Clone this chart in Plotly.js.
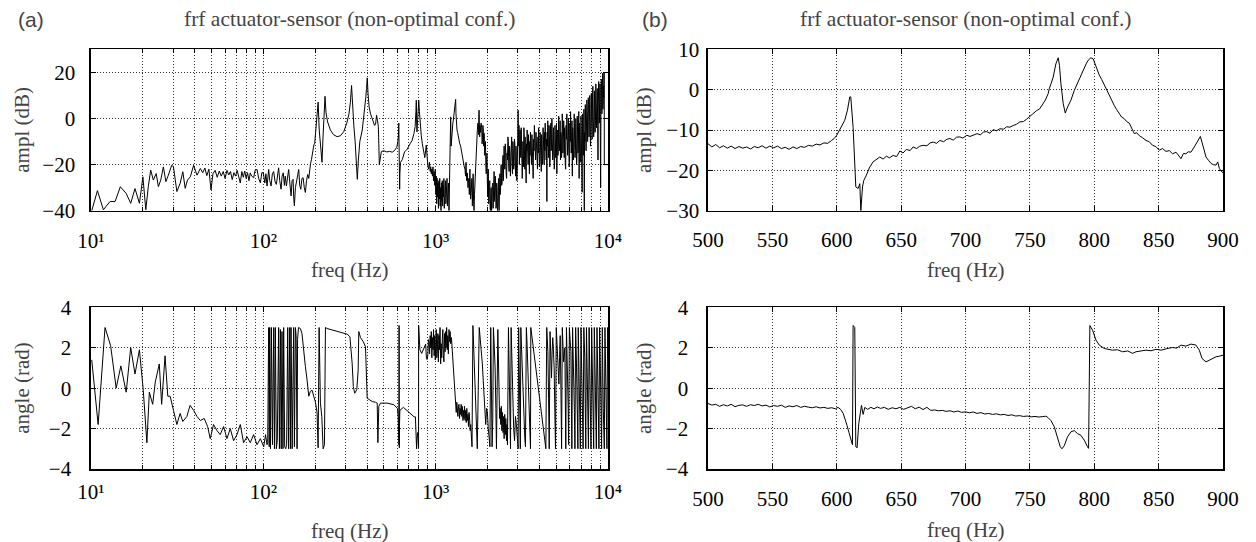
<!DOCTYPE html>
<html>
<head>
<meta charset="utf-8">
<script src="https://cdn.plot.ly/plotly-3.0.1.min.js"></script>
<style>html,body{margin:0;padding:0;background:#fff;}#chart{width:1256px;height:542px;}</style>
</head>
<body>
<div id="chart"></div>
<script>
// ---- data: [frequency Hz, value] ----
const ampA = [[10.1,-40],[10.9,-31.3],[11.8,-39.6],[12.9,-36],[13.8,-36],[14.8,-29.6],[16.0,-32.5],[17.0,-36.8],[18.0,-30.4],[19.1,-36.8],[20.0,-25.3],[20.8,-39.6],[21.5,-29.6],[22.2,-22.4],[23.0,-26.7],[23.9,-23.9],[24.6,-29.6],[25.4,-26.7],[26.3,-21],[27.2,-27.4],[28.1,-24.6],[29.4,-20.3],[30.1,-21],[31.5,-31.7],[32.9,-28.1],[34.1,-23.1],[35.2,-30.3],[36.3,-26.7],[37.7,-25.3],[39.4,-20.3],[41.2,-24.6],[43.1,-21.7],[44.5,-23.5],[45.8,-21.5],[47.0,-24.8],[48.3,-22.0],[49.7,-31.0],[51.0,-24],[52.5,-22.5],[54,-25.5],[55.5,-22.8],[57,-25],[58.5,-23],[60,-26],[61.5,-22.5],[63,-24.5],[64.5,-23],[66,-26.5],[67.5,-23.5],[69,-25],[70.5,-22.5],[72,-25.8],[73.5,-28],[75,-23],[76.5,-25.5],[78,-22.8],[79.5,-26],[81,-23.5],[82.5,-27],[84,-23.6],[85.5,-25],[87.9,-25.7],[89.5,-22.5],[91.9,-22.1],[94,-26],[96.1,-27.9],[98,-23.5],[100,-23.6],[102,-28],[103.5,-24],[105.1,-29.3],[107.4,-22.1],[109,-27],[110.9,-29.3],[112.8,-24],[114.8,-23.0],[117,-27.5],[119,-28.6],[121,-23.5],[122.7,-21.4],[124.5,-27],[126.7,-30.7],[128.5,-25],[130.5,-23.6],[132.5,-29],[134,-25],[136.1,-29.3],[138.2,-24],[140.3,-22.1],[142.5,-28],[144.9,-33.6],[146.8,-27],[148.8,-26.4],[150.2,-35],[151.4,-37.9],[153.5,-30],[155.6,-27.9],[158,-24.5],[160.5,-22.1],[162.5,-29],[165,-30.7],[167.5,-26],[170.2,-25.7],[172.8,-30],[175.4,-32.1],[178,-27],[181,-24.3],[183.5,-26],[185.9,-20.7],[188,-19.5],[190.1,-17.9],[192.3,-15],[194.5,-12.1],[196.5,-11.5],[198.7,-10.7],[201.4,-5],[203,-3],[205,-0.7],[208,7.1],[211,-5],[215,-14],[219,-19],[222,-8],[225,3],[228,9.6],[231,2.5],[236,-1.5],[245,-5],[255,-7],[268,-7.9],[280,-7.5],[293,-5.7],[305,-2],[314,2],[320,7],[325,14.3],[329,4],[335,-3],[341,-10],[346,-18],[351,-26.4],[356,-18],[363,-10],[375,-5],[385,2],[393,9],[397,13],[401,17.6],[405,11],[411,5],[419,2],[430,-1],[442,-3],[448,-2.5],[454,1.4],[460,-1],[465,-3.6],[471,-20],[477,-16],[484,-14.3],[500,-14],[520,-14.5],[540,-14.3],[560,-14.6],[575,-14],[585,-13.4],[595,-12.5],[603,-10],[608,-7.6],[611,-2],[613,-9],[615,-24],[618,-30.7],[620,-24],[625,-19],[640,-17.9],[660,-14.5],[684,-13.3],[710,-11],[730,-9.5],[748,-6.5],[760,-3.5],[768,3],[772,7.9],[776,-3],[779,-5.8],[786,-0.5],[792,5],[798,7.9],[805,3],[815,-3.5],[825,-7.5],[837,-11],[850,-15],[865,-17],[882,-11.5],[890,-18],[900,-20],[910,-22],[920,-19],[930,-23],[936,-21],[944,-24],[950,-22],[958,-25],[965,-21],[972,-27],[980,-23],[988,-29],[995,-22],[1002,-33],[1008,-25],[1014,-37],[1020,-26],[1026,-34],[1032,-28],[1038,-39],[1044,-27],[1050,-35],[1056,-26],[1062,-38],[1068,-30],[1074,-40],[1080,-28],[1086,-36],[1092,-27],[1098,-38],[1104,-29],[1110,-34],[1116,-26],[1122,-39],[1128,-30],[1134,-36],[1140,-27],[1146,-37],[1152,-29],[1158,-33],[1164,-26],[1170,-38],[1176,-30],[1182,-35],[1188,-28],[1195,-40],[1205,-20],[1215,-8],[1222,0.7],[1230,-12],[1240,-6],[1250,-5],[1258,-2],[1265,-1],[1272,1],[1280,2],[1288,4],[1295,5],[1300,7],[1306,8.3],[1312,2],[1320,-3],[1330,-5],[1340,-6],[1352,-8],[1365,-9],[1380,-11],[1396,-12],[1408,-14],[1420,-16],[1435,-18],[1450,-20],[1465,-21],[1480,-22],[1490,-25],[1500,-19],[1514,-27],[1527,-23.6],[1540,-30],[1555,-26],[1568,-33],[1580,-22],[1595,-35],[1610,-31],[1622,-26],[1633,-38],[1645,-29],[1650,-24],[1660,-36],[1670,-40],[1680,-33],[1690,-28],[1700,-22],[1710,-18],[1720,-14],[1730,-9],[1745,-5],[1760,-2],[1772,-7],[1785,3.6],[1792,-4],[1800,-8],[1810,-3],[1820,-6],[1835,-2],[1850,-4],[1860,-11],[1870,-9],[1880,-3],[1890,-5],[1900,-12],[1909,-6.4],[1918,-10],[1925,-16],[1935,-12],[1945,-10],[1955,-20],[1965,-24],[1975,-18],[1985,-15],[1995,-28],[2005,-34],[2012,-26],[2020,-22],[2030,-37],[2041,-36],[2050,-29],[2060,-27],[2070,-39],[2080,-40],[2090,-32],[2100,-30],[2110,-40],[2120,-38],[2132,-29],[2145,-28],[2155,-39],[2165,-35],[2175,-27],[2183,-23],[2195,-36],[2205,-33],[2215,-25],[2225,-27],[2238,-39],[2250,-38],[2260,-28],[2270,-30],[2285,-40],[2300,-37],[2310,-29],[2320,-26],[2327,-36],[2334,-40],[2348,-30],[2360,-24],[2370,-33],[2380,-31],[2390,-22],[2400,-20],[2415,-29],[2430,-28],[2445,-19],[2460,-16],[2470,-27],[2480,-24],[2490,-15],[2496,-12],[2508,-20],[2520,-22],[2535,-11],[2550,-14],[2565,-24],[2580,-26],[2595,-15],[2610,-18],[2625,-8],[2640,-10],[2655,-21],[2670,-23],[2685,-12],[2700,-15],[2715,-25],[2730,-21],[2745,-11],[2760,-8],[2775,-19],[2790,-24],[2805,-10],[2820,-13],[2835,-22],[2850,-20],[2865,-9],[2880,-11],[2895,-20],[2910,-25],[2925,-12],[2940,-16],[2958,-27],[2975,-22],[2990,-10],[3010,3.6],[3020,-6],[3030,-12],[3045,-3],[3060,-20],[3075,-9],[3090,-5],[3105,-14],[3120,-17],[3135,-4],[3150,-8],[3165,-19],[3180,-26],[3195,-13],[3210,-10],[3225,-21],[3240,-18],[3250,-4],[3260,-6],[3275,-16],[3290,-22],[3305,-8],[3320,-12],[3335,-20],[3350,-28],[3365,-11],[3380,-14],[3395,-5],[3410,-9],[3425,-18],[3440,-20],[3455,-7],[3470,-13],[3485,-22],[3500,-24],[3515,-10],[3530,-16],[3548,-6],[3565,-10],[3582,-19],[3600,-20],[3620,-7],[3640,-12],[3660,-21],[3680,-26],[3700,-9],[3720,-14],[3740,-3],[3760,-8],[3780,-17],[3800,-18],[3820,-6],[3840,-11],[3870,-20],[3898,-22],[3920,-8],[3940,-15],[3960,-4],[3980,-9],[4000,-21],[4020,-19],[4040,-6],[4060,-13],[4080,-22],[4100,-23],[4120,-7],[4140,-12],[4160,-20],[4180,-17],[4200,-4],[4220,-10],[4240,-19],[4262,-20],[4280,-6],[4300,-14],[4320,-2],[4340,-8],[4360,-16],[4380,-18],[4400,-9],[4420,-36],[4435,-6],[4450,-12],[4470,-1],[4490,-4],[4510,-17],[4530,-15],[4550,-3],[4570,-7],[4590,-21],[4610,-19],[4635,-5],[4663,-2],[4680,-14],[4700,-12],[4725,0],[4750,-6],[4775,-18],[4800,-16],[4825,-4],[4850,-9],[4875,-22],[4900,-20],[4925,-3],[4950,-8],[4975,-17],[5000,-14],[5025,-2],[5050,-24],[5075,-8],[5097,-5],[5125,-16],[5150,-13],[5175,1],[5200,-3],[5225,-14],[5250,-11],[5275,-1],[5300,-18],[5325,-6],[5350,-7],[5375,-17],[5400,-14],[5425,2],[5450,-2],[5475,-15],[5500,-10],[5535,-1],[5573,-17],[5595,-4],[5620,-6],[5650,-20],[5680,-22],[5710,-3],[5740,-9],[5770,2],[5800,-4],[5830,-16],[5860,-13],[5890,0],[5920,-7],[5950,-21],[5980,-19],[6010,-2],[6040,-10],[6065,3],[6094,-3],[6120,-15],[6150,-12],[6180,-1],[6210,-25],[6240,-4],[6270,-8],[6300,-18],[6330,-15],[6365,2],[6400,-6],[6435,-17],[6470,-14],[6505,0],[6540,-9],[6570,-20],[6600,-18],[6630,1],[6663,-5],[6695,-15],[6730,-12],[6765,3],[6800,-26],[6835,-2],[6870,-8],[6905,-19],[6940,-17],[6970,1],[7000,-10],[7040,-20],[7080,-32],[7115,2],[7150,-4],[7185,-16],[7220,-14],[7250,4],[7285,-40],[7320,-6],[7350,-10],[7385,6],[7420,-2],[7460,-14],[7500,-8],[7540,8],[7580,3],[7615,-10],[7650,-4],[7685,9],[7720,6],[7760,-8],[7800,0],[7840,10],[7880,-6],[7920,-12],[7965,4],[8005,11],[8050,-2],[8090,-9],[8130,8],[8170,14],[8210,1],[8255,-8],[8300,-5],[8340,12],[8380,6],[8420,-6],[8460,-1],[8500,15],[8540,10],[8580,-4],[8620,2],[8665,13],[8709,-3],[8750,-18],[8790,7],[8830,16],[8870,12],[8910,-2],[8950,3],[8990,15],[9030,-12],[9065,-30],[9100,5],[9140,17],[9180,14],[9215,2],[9250,8],[9280,15],[9310,19.6],[9345,4],[9380,6],[9410,14],[9440,9],[9470,20],[9510,20],[9520,-20],[10000,-20]];

const phaseA = [[10.1,1.4],[11.0,-1.8],[12.06,3.0],[13.0,2.1],[14.0,0.0],[14.9,1.1],[16.0,-0.2],[17.0,2.0],[18.0,0.7],[19.1,1.9],[20.1,-0.1],[21.1,-2.7],[21.8,-0.2],[22.8,-0.8],[23.6,0.3],[24.9,1.2],[25.7,-0.8],[26.9,1.6],[27.9,-0.4],[28.8,-0.4],[30.1,-1.1],[31.5,-1.8],[32.9,-1.25],[34.1,-1.65],[36.0,-1.4],[37.6,-0.85],[39.4,-1.1],[41.2,-1.4],[43.1,-1.6],[45.4,-1.5],[47.5,-1.9],[49.2,-2.5],[51.4,-1.8],[53.8,-2.1],[56.2,-2.3],[58.8,-1.9],[61.5,-2.5],[64.3,-2.0],[67.2,-2.6],[70.3,-2.3],[73.5,-1.8],[76.8,-2.7],[80.4,-2.4],[84,-2.7],[87.8,-2.3],[91.9,-2.8],[96.1,-2.5],[100.5,-2.9],[103,-2.3],[105,-2.8],[106,-2.7],[107.4,3.0],[108.2,-2.9],[108.9,3.0],[110,-3.0],[111.4,3.0],[113,-2.8],[114.9,3.0],[116,-3.0],[117.4,3.0],[119,-3.0],[120.5,-2.6],[122.7,3.0],[124,-3.0],[125.6,2.9],[127,-3.0],[128.3,2.8],[130,-3.0],[131.2,3.0],[133,-2.9],[135,-3.0],[136.5,-2.8],[138.5,3.0],[140,-3.0],[142.3,3.0],[143.5,-3.0],[144.8,3.0],[147,-3.0],[150,3.0],[151.5,-2.9],[153.5,3.0],[155,2.6],[157,-3.0],[158,2.4],[160,3.0],[164,2.95],[167.6,2.7],[171.5,1.7],[175.4,1.07],[179.4,0.4],[183.5,-0.4],[187.6,-0.16],[191.8,-0.1],[196.1,-0.4],[200.6,-0.7],[205,-1.2],[207.9,-2.95],[210.7,3.0],[214.4,-0.74],[218.4,-1.4],[222.3,-3.0],[226.3,-2.8],[229.3,3.0],[234.5,2.95],[269.5,2.79],[306.7,2.67],[318,2.54],[327.8,1.2],[332.7,0.08],[339,-0.25],[348.5,-0.08],[355,0.9],[358.1,2.8],[366.4,2.5],[380,2.3],[391.6,2.05],[400.5,-0.5],[409.6,-0.57],[428,-0.66],[448,-0.7],[458,-0.74],[462,-2.7],[467.8,-0.9],[478.6,-0.74],[523,-0.74],[572,-0.82],[600,-1.0],[606,-1.4],[609,-2.1],[611.4,-2.7],[612.2,-2.8],[612.7,3.1],[614,3.0],[614.8,-2.9],[615.8,-2.95],[617,-1.75],[620,-1.1],[650,-0.95],[700,-1.17],[750,-1.42],[763,-1.42],[768,-1.9],[772,-2.5],[775,-3.0],[780,-2.4],[785,-2.2],[790,-2.5],[795.6,-2.95],[796.6,3.1],[799,2.87],[804,2.13],[810,1.9],[830,1.72],[855,1.96],[875,2.18],[884,1.47],[891,1.42],[900,1.6],[908,2.4],[915,2.3],[922,1.7],[929,2.6],[936,2.0],[943,2.8],[950,1.5],[958,2.5],[965,1.9],[972,2.9],[980,1.6],[988,2.6],[995,1.4],[1000,2.3],[1008,2.9],[1015,1.5],[1022,1.8],[1030,2.7],[1037,1.3],[1045,2.6],[1052,1.9],[1060,3.0],[1069,1.2],[1076,2.2],[1084,1.5],[1093,2.4],[1100,2.9],[1108,1.6],[1117,1.3],[1125,2.7],[1134,1.8],[1143,2.8],[1150,2.0],[1158,3.0],[1168,1.9],[1176,2.6],[1185,1.7],[1195,2.9],[1205,2.3],[1213,2.8],[1222,2.2],[1235,2.5],[1250,1.8],[1265,1.2],[1278,0.5],[1292,-0.4],[1306,-0.75],[1316,-1.2],[1326,-0.7],[1336,-1.0],[1346,-1.4],[1356,-0.9],[1366,-0.8],[1376,-1.5],[1386,-1.0],[1396,-1.3],[1406,-0.8],[1417,-1.4],[1428,-0.9],[1440,-1.6],[1450,-1.1],[1460,-1.5],[1470,-0.9],[1482,-1.6],[1493,-1.1],[1505,-1.7],[1516,-1.0],[1527,-1.6],[1540,-1.3],[1550,-1.9],[1562,-1.2],[1575,-1.6],[1586,-2.1],[1597,-1.8],[1610,-2.3],[1625,-2.9],[1645,3.1],[1660,2.2],[1675,1.5],[1690,0.2],[1705,-1.0],[1725,-2.2],[1744,-3.0],[1790,3.0],[1808,2.6],[1825,2.0],[1845,1.6],[1866,1.2],[1888,0.4],[1909,-0.5],[1930,-1.2],[1952,-1.8],[1975,-1.0],[1996,-1.2],[2020,-2.0],[2041,-2.5],[2065,-2.9],[2087,3.0],[2105,0.5],[2125,-2.9],[2145,-1.5],[2163,3.0],[2190,2.0],[2213,1.0],[2235,-1.0],[2253,-3.0],[2295,2.9],[2315,1.0],[2334,-0.8],[2350,-1.5],[2365,-1.0],[2387,-1.8],[2405,-0.9],[2420,-2.1],[2441,-1.2],[2460,-2.2],[2480,-1.4],[2496,-2.5],[2515,-1.3],[2535,-2.3],[2553,-1.5],[2575,-2.6],[2592,-1.8],[2610,-2.8],[2645,3.0],[2670,0.5],[2692,-2.0],[2718,-3.0],[2740,3.0],[2770,1.0],[2800,-1.0],[2835,-2.0],[2870,-2.6],[2905,-1.4],[2940,-1.8],[2975,-2.4],[3010,-3.0],[3030,3.0],[3055,0.0],[3082,-2.8],[3100,-3.0],[3120,3.0],[3145,2.2],[3172,1.0],[3215,-0.8],[3260,-2.0],[3290,-2.5],[3320,-2.9],[3360,3.0],[3395,2.1],[3430,1.2],[3480,-0.8],[3535,-2.5],[3550,-3.0],[3565,3.0],[3600,2.7],[3640,2.4],[3700,1.9],[3760,1.5],[3810,1.0],[3860,0.6],[3920,0.1],[3980,-0.5],[4045,-1.0],[4110,-1.5],[4170,-1.9],[4225,-2.3],[4290,-2.7],[4360,-3.0],[4410,3.0],[4445,2.3],[4480,1.8],[4520,-0.5],[4560,-3.0],[4610,2.8],[4655,1.5],[4700,0.5],[4740,1.8],[4780,2.5],[4825,1.9],[4870,1.0],[4915,-1.2],[4960,-3.0],[5010,3.0],[5055,2.2],[5097,1.5],[5145,0.8],[5190,0.2],[5235,1.5],[5280,2.6],[5330,0.0],[5380,-3.0],[5430,3.0],[5480,2.0],[5525,1.3],[5570,1.6],[5620,2.0],[5655,-0.5],[5690,-3.0],[5740,3.0],[5790,1.8],[5840,0.8],[5875,-1.0],[5910,-2.8],[5970,3.0],[6030,2.4],[6094,1.8],[6130,-0.5],[6170,-3.0],[6230,3.0],[6285,1.8],[6340,0.5],[6385,-1.2],[6430,-3.0],[6490,3.0],[6530,2.1],[6570,1.0],[6615,-0.5],[6663,-2.0],[6690,-3.0],[6720,3.0],[6785,0.8],[6850,-1.5],[6910,-3.0],[6970,3.0],[7020,1.8],[7070,0.8],[7120,-1.2],[7170,-3.0],[7240,3.0],[7285,2.2],[7330,1.5],[7380,-0.8],[7430,-3.0],[7500,3.0],[7550,1.4],[7600,0],[7650,-1.6],[7700,-3.0],[7770,3.0],[7815,2.0],[7860,1.0],[7910,-1.0],[7965,-3.0],[8040,3.0],[8095,1.0],[8150,-1.0],[8205,-2.2],[8260,-3.0],[8330,3.0],[8385,1.8],[8440,0.5],[8500,-1.5],[8560,-3.0],[8630,3.0],[8685,1.2],[8740,-0.5],[8800,-1.8],[8860,-3.0],[8940,3.0],[9000,2.0],[9060,1.0],[9120,-1.2],[9180,-3.0],[9270,3.0],[9330,0.8],[9390,-1.0],[9455,-2.0],[9520,-3.0],[9600,3.0],[9665,1.8],[9730,0.5],[9795,-1.5],[9860,-3.0],[9950,3.0],[10000,1.5]];

const ampB = [[500,-13.4],[503,-14.2],[506,-13.6],[509,-14.4],[512,-13.9],[515,-14.5],[518,-14.0],[521,-14.6],[524,-14.1],[527,-14.5],[530,-14.2],[533,-14.7],[536,-14.1],[539,-14.4],[542,-13.9],[545,-14.5],[548,-14.0],[551,-14.4],[554,-14.0],[557,-14.6],[560,-14.3],[563,-14.8],[566,-14.2],[569,-14.6],[572,-14.1],[575,-14.3],[578,-13.8],[581,-14.0],[584,-13.5],[587,-13.7],[590,-13.2],[593,-13.3],[596,-12.6],[598,-12.1],[600,-11.3],[602.3,-10],[604,-9.2],[606.2,-7.6],[608.3,-5.1],[610.1,-1.8],[610.9,-1.8],[612.7,-9.3],[614.8,-24.1],[616.6,-24.5],[617.9,-23.3],[618.7,-30],[620,-24.1],[621,-22.5],[623,-21.2],[625.6,-19.2],[628.2,-17.9],[630.8,-17.3],[633.4,-16.7],[636,-17.2],[638.6,-16.5],[641,-16.9],[643.8,-16.3],[646.5,-16.6],[649,-15.2],[651.5,-15.7],[654.1,-14.8],[657,-15.1],[659.3,-14.2],[662,-14.6],[664.5,-14.0],[667.1,-13.8],[670,-13.9],[672.5,-13.2],[674.9,-13.0],[677.5,-13.3],[680,-12.6],[683,-12.9],[685.5,-12.3],[687.8,-12.1],[690.5,-12.5],[693,-11.8],[695.6,-11.7],[698,-12.0],[701,-11.3],[703.5,-11.6],[706,-11.3],[709,-10.9],[711.5,-11.2],[714,-10.5],[716.3,-10.4],[719,-10.8],[721.5,-9.9],[724,-10.2],[726.7,-9.7],[729.5,-9.8],[732,-9.2],[734.5,-9.3],[737,-8.9],[739.5,-8.6],[742.2,-8.0],[745,-7.9],[747.5,-7.3],[750,-6.6],[752.5,-6.0],[755.2,-5.2],[757.5,-4.8],[759.8,-3.6],[762,-2.6],[764.2,-1.0],[765,0.2],[766.5,1.5],[768.1,3.1],[770.2,6.4],[771.2,7.4],[772,7.9],[773,6],[774.1,1.5],[775.9,-3.5],[777.5,-5.8],[779.3,-4.3],[781.9,-2.6],[784.5,-0.2],[786.5,1.2],[788.3,2.7],[790.3,4.0],[792.2,5.6],[794,6.6],[795.6,7.4],[797.4,7.9],[799.2,7.6],[801.3,5.6],[803.9,3.6],[805.8,2.5],[807.8,1.1],[809.8,-0.1],[811.7,-1.4],[813.6,-2.8],[815.5,-3.9],[817.5,-5.0],[819.4,-6.0],[821.3,-6.8],[823.3,-7.2],[825.2,-7.9],[827.2,-8.3],[829,-9.5],[831.1,-10.9],[833,-10.7],[835,-11.4],[837.5,-11.9],[840.2,-12.6],[842.7,-12.9],[845.3,-13.8],[847.8,-14.1],[850.5,-15.0],[853,-14.6],[855.7,-15.3],[858.3,-15.1],[860.9,-15.9],[863.5,-15.5],[865.5,-16.4],[867.4,-17.1],[869.3,-15.8],[871.2,-15.9],[873,-15.4],[875.1,-15.5],[877.7,-14.2],[880.3,-12.6],[882.4,-11.6],[884.7,-14.2],[886.8,-16.7],[888.7,-17.5],[890.7,-18.3],[892.6,-18.6],[894.6,-18.7],[895.9,-17.9],[897.2,-19.6],[899.2,-20.4],[900,-20.6]];

const phaseB = [[500,-0.76],[503,-0.84],[506,-0.80],[509,-0.90],[512,-0.82],[515,-0.88],[518,-0.80],[521,-0.92],[524,-0.85],[527,-0.83],[530,-0.90],[533,-0.82],[536,-0.86],[539,-0.80],[542,-0.88],[545,-0.84],[548,-0.93],[551,-0.86],[554,-0.90],[557,-0.84],[560,-0.95],[563,-0.88],[566,-0.92],[569,-0.86],[572,-0.95],[575,-0.90],[578,-0.94],[581,-0.97],[584,-0.92],[587,-0.98],[590,-0.95],[593,-1.0],[596,-0.97],[599,-1.02],[601,-0.95],[603,-1.05],[605,-1.25],[606.5,-1.5],[608,-1.85],[609.5,-2.2],[611,-2.6],[612.2,-2.8],[612.7,3.1],[614,3.0],[614.8,-2.9],[615.8,-2.95],[617.1,-1.75],[618.4,-1.1],[619.2,-0.85],[620.5,-1.3],[621.8,-0.95],[624,-1.05],[626.5,-0.95],[629,-1.02],[631.5,-0.93],[634,-1.0],[637,-0.95],[640,-1.05],[643,-0.97],[646,-1.02],[649,-0.95],[652,-1.05],[655,-0.98],[658,-0.9],[661,-1.02],[664,-0.94],[667,-1.06],[670,-0.95],[673,-1.1],[676,-1.08],[679,-1.12],[682,-1.1],[685,-1.15],[688,-1.12],[691,-1.18],[694,-1.13],[697,-1.2],[700,-1.17],[703,-1.22],[706,-1.18],[709,-1.25],[712,-1.21],[715,-1.28],[718,-1.25],[721,-1.3],[724,-1.27],[727,-1.32],[730,-1.3],[733,-1.35],[736,-1.32],[739,-1.38],[742,-1.36],[745,-1.4],[748,-1.38],[751,-1.42],[754,-1.40],[757,-1.43],[760,-1.40],[762.4,-1.39],[764,-1.45],[766.3,-1.6],[768.9,-1.9],[771.5,-2.5],[773.6,-2.9],[774.9,-3.0],[776.7,-2.85],[779.3,-2.4],[781.9,-2.16],[784.5,-2.1],[787,-2.25],[789.6,-2.33],[792.2,-2.57],[794.8,-2.9],[795.6,-2.98],[796.6,3.1],[798.7,2.87],[801.3,2.38],[803.9,2.13],[807.8,1.96],[811,1.92],[814.2,1.88],[818,1.9],[822,1.8],[826,1.84],[829.8,1.72],[832.4,1.8],[836,1.82],[840.2,1.88],[844,1.85],[848,1.92],[852,1.88],[855.7,1.96],[858,1.98],[860.9,2.01],[864,1.98],[867.4,2.13],[871.2,2.08],[875.1,2.18],[879,2.13],[881.6,1.88],[883.7,1.47],[886.8,1.3],[890.7,1.42],[894.6,1.55],[897,1.58],[900,1.63]];

// tick positions / labels for the log frequency axis
const decadeVals = [10, 100, 1000, 10000];
const decadeText = ['10\u00B9', '10\u00B2', '10\u00B3', '10\u2074'];
const minorVals = [20,30,40,50,60,70,80,90,200,300,400,500,600,700,800,900,2000,3000,4000,5000,6000,7000,8000,9000];
const titleText = 'frf actuator-sensor (non-optimal conf.)';

const SERIF = 'Liberation Serif, Times New Roman, serif';
const SANS = 'Liberation Sans, Arial, sans-serif';
const W = 1256, H = 542;
const GRID = {gridcolor: '#333', griddash: '1px,2px', gridwidth: 1};

function tr(pairs, xa, ya) {
  return {x: pairs.map(p => p[0]), y: pairs.map(p => p[1]), xaxis: xa, yaxis: ya,
    type: 'scatter', mode: 'lines', line: {color: '#000', width: 1}, hoverinfo: 'skip'};
}

const common = Object.assign({
  showline: true, mirror: 'allticks', linecolor: '#000', linewidth: 1.6,
  ticks: 'inside', ticklen: 5, tickcolor: '#000', tickwidth: 1,
  showgrid: true, zeroline: false, tickfont: {family: SERIF, size: 21, color: '#000'}
}, GRID);
function ax(o) { return Object.assign({}, common, o); }
const logMinor = Object.assign({tickmode: 'array', tickvals: minorVals, showgrid: true, ticks: 'inside', ticklen: 4, tickcolor: '#000'}, GRID);

const xA = [91/W, 608/W], xB = [708/W, 1223/W];
const yTop = [1 - 210.7/H, 1 - 49.3/H], yBot = [1 - 469/H, 1 - 307.3/H];

const layout = {
  width: W, height: H, margin: {l: 0, r: 0, t: 0, b: 0},
  paper_bgcolor: '#fff', plot_bgcolor: '#fff', showlegend: false,
  xaxis: ax({domain: xA, anchor: 'y', type: 'log', range: [1, 4], tickmode: 'array', tickvals: decadeVals, ticktext: decadeText, minor: logMinor, ticklabelstandoff: 10}),
  yaxis: ax({domain: yTop, anchor: 'x', range: [-40, 30], tickvals: [-40, -20, 0, 20], ticklabelstandoff: 10}),
  xaxis2: ax({domain: xA, anchor: 'y2', type: 'log', range: [1, 4], tickmode: 'array', tickvals: decadeVals, ticktext: decadeText, minor: logMinor, ticklabelstandoff: 3}),
  yaxis2: ax({domain: yBot, anchor: 'x2', range: [-4, 4], dtick: 2, ticklabelstandoff: 14}),
  xaxis3: ax({domain: xB, anchor: 'y3', range: [500, 900], dtick: 50, ticklabelstandoff: 9}),
  yaxis3: ax({domain: yTop, anchor: 'x3', range: [-30, 10], dtick: 10, ticklabelstandoff: 3}),
  xaxis4: ax({domain: xB, anchor: 'y4', range: [500, 900], dtick: 50, ticklabelstandoff: 10}),
  yaxis4: ax({domain: yBot, anchor: 'x4', range: [-4, 4], dtick: 2, ticklabelstandoff: 14}),
  annotations: [
    {text: '(a)', x: 16/W, y: 1 - 20/H, xanchor: 'left', yanchor: 'middle', font: {family: SANS, size: 21}},
    {text: '(b)', x: 640/W, y: 1 - 20/H, xanchor: 'left', yanchor: 'middle', font: {family: SANS, size: 21}},
    {text: titleText, x: 349.5/W, y: 1 - 19/H, xanchor: 'center', yanchor: 'middle', font: {family: SERIF, size: 21.5}},
    {text: titleText, x: 965.5/W, y: 1 - 19/H, xanchor: 'center', yanchor: 'middle', font: {family: SERIF, size: 21.5}},
    {text: 'ampl (dB)', x: 21.7/W, y: 1 - 130/H, textangle: -90, xanchor: 'center', yanchor: 'middle', font: {family: SERIF, size: 21}},
    {text: 'angle (rad)', x: 21.7/W, y: 1 - 388/H, textangle: -90, xanchor: 'center', yanchor: 'middle', font: {family: SERIF, size: 21}},
    {text: 'ampl (dB)', x: 644/W, y: 1 - 130/H, textangle: -90, xanchor: 'center', yanchor: 'middle', font: {family: SERIF, size: 21}},
    {text: 'angle (rad)', x: 644/W, y: 1 - 388/H, textangle: -90, xanchor: 'center', yanchor: 'middle', font: {family: SERIF, size: 21}},
    {text: 'freq (Hz)', x: 349.5/W, y: 1 - 270/H, xanchor: 'center', yanchor: 'middle', font: {family: SERIF, size: 21}},
    {text: 'freq (Hz)', x: 349.5/W, y: 1 - 531/H, xanchor: 'center', yanchor: 'middle', font: {family: SERIF, size: 21}},
    {text: 'freq (Hz)', x: 965.5/W, y: 1 - 270/H, xanchor: 'center', yanchor: 'middle', font: {family: SERIF, size: 21}},
    {text: 'freq (Hz)', x: 965.5/W, y: 1 - 530/H, xanchor: 'center', yanchor: 'middle', font: {family: SERIF, size: 21}}
  ].map(a => Object.assign({xref: 'paper', yref: 'paper', showarrow: false}, a))
};

const data = [tr(ampA, 'x', 'y'), tr(phaseA, 'x2', 'y2'), tr(ampB, 'x3', 'y3'), tr(phaseB, 'x4', 'y4')];
Plotly.newPlot('chart', data, layout, {staticPlot: true, displayModeBar: false});
</script>
</body>
</html>
